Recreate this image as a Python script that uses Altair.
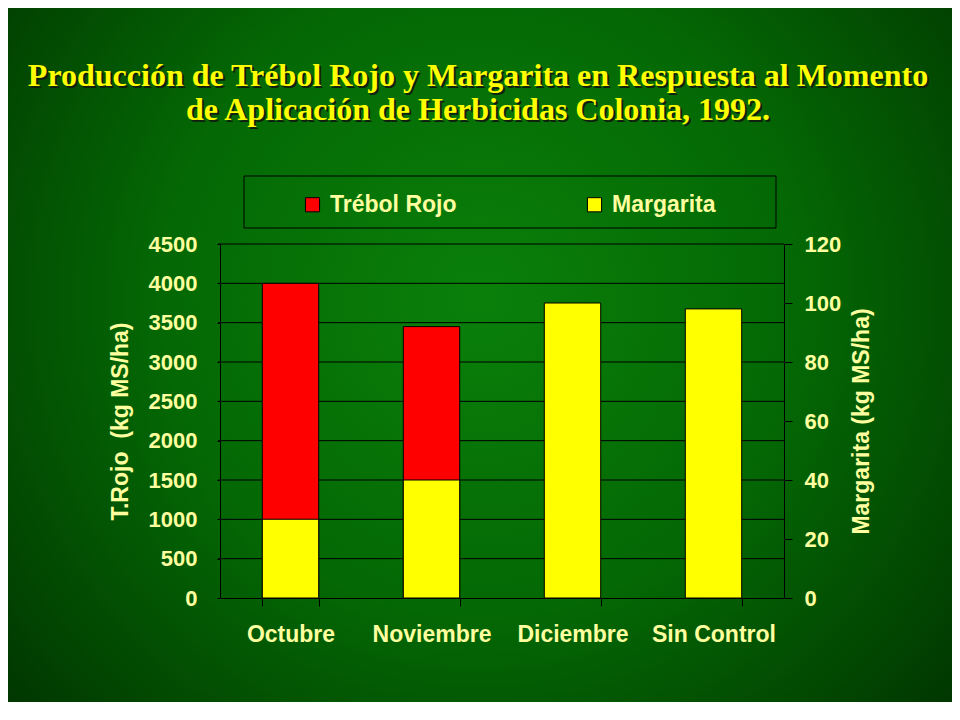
import altair as alt
import pandas as pd

categories = ["Octubre", "Noviembre", "Diciembre", "Sin Control"]
trebol_rojo = [4000, 3450, 0, 0]
margarita = [26.7, 40, 100, 98]
left_ticks = [0, 500, 1000, 1500, 2000, 2500, 3000, 3500, 4000, 4500]
right_ticks = [0, 20, 40, 60, 80, 100, 120]
series = ["Trébol Rojo", "Margarita"]
title_lines = ["Producción de Trébol Rojo y Margarita en Respuesta al Momento",
               "de Aplicación de Herbicidas Colonia, 1992."]

W, H = 564, 354
PL, PT, PR, PB = 212, 236, 168, 104
TXT = "#FFFFA0"
FONT = "Liberation Sans"

df = pd.DataFrame({"cat": categories, "trebol": trebol_rojo, "marg": margarita})
df["s_t"] = series[0]
df["s_m"] = series[1]
grid_df = pd.DataFrame({"v": left_ticks[1:]})
one = pd.DataFrame({"k": [0]})

xenc = alt.X("cat:N", sort=categories, title=None,
             scale=alt.Scale(paddingInner=0.6, paddingOuter=0.3),
             axis=alt.Axis(labelAngle=0, tickBand="extent", tickSize=8, tickColor="black",
                           domainColor="black", labelFont=FONT, labelFontSize=23,
                           labelFontWeight="bold", labelColor=TXT, labelPadding=17,
                           grid=False, zindex=1))

cscale = alt.Scale(domain=series, range=["#FF0000", "#FFFF00"])

bg = alt.Chart(one).mark_rect(
    fill=alt.Gradient(gradient="radial",
                      stops=[alt.GradientStop(color="#0a800a", offset=0),
                             alt.GradientStop(color="#046804", offset=0.45),
                             alt.GradientStop(color="#013a01", offset=0.85),
                             alt.GradientStop(color="#002a00", offset=1)],
                      x1=0.5, y1=0.44, r1=0, x2=0.5, y2=0.44, r2=0.75)
).encode(x=alt.value(-PL), x2=alt.value(W + PR), y=alt.value(-PT), y2=alt.value(H + PB))

grid = alt.Chart(grid_df).mark_rule(color="black", strokeWidth=1).encode(
    y=alt.Y("v:Q", scale=alt.Scale(domain=[0, 4500]), axis=None),
    x=alt.value(-2), x2=alt.value(W))

legend_box = alt.Chart(one).mark_rect(fill=None, stroke="black", strokeWidth=1).encode(
    x=alt.value(24), x2=alt.value(556), y=alt.value(-68), y2=alt.value(-16))

red = alt.Chart(df).mark_bar(stroke="black", strokeWidth=1).encode(
    x=xenc,
    y=alt.Y("trebol:Q", scale=alt.Scale(domain=[0, 4500], nice=False),
            axis=alt.Axis(orient="left", values=left_ticks, format="d",
                          title="T.Rojo \u00a0(kg MS/ha)",
                          grid=False, domainColor="black", tickColor="black", tickSize=3,
                          labelFont=FONT, labelFontSize=22, labelFontWeight="bold",
                          labelColor=TXT, labelPadding=20, titleFont=FONT, titleFontSize=23,
                          titleFontWeight="bold", titleColor=TXT, titlePadding=16, zindex=1)),
    color=alt.Color("s_t:N", scale=cscale,
                    legend=alt.Legend(orient="none", legendX=81, legendY=-51,
                                      direction="horizontal", title=None, symbolType="square",
                                      symbolSize=200, symbolStrokeColor="black",
                                      symbolStrokeWidth=1, symbolOpacity=1, labelFont=FONT,
                                      labelFontSize=23, labelFontWeight="bold", labelColor=TXT,
                                      columnPadding=126, padding=0, labelOffset=6)))

yellow = alt.Chart(df).mark_bar(stroke="black", strokeWidth=1).encode(
    x=xenc,
    y=alt.Y("marg:Q", scale=alt.Scale(domain=[0, 120], nice=False),
            axis=alt.Axis(orient="right", values=right_ticks, format="d",
                          title="Margarita (kg MS/ha)",
                          grid=False, domainColor="black", tickColor="black", tickSize=8,
                          labelFont=FONT, labelFontSize=22, labelFontWeight="bold",
                          labelColor=TXT, labelPadding=12, titleFont=FONT, titleFontSize=23,
                          titleFontWeight="bold", titleColor=TXT, titlePadding=10,
                          titleAngle=270, titleBaseline="top", zindex=1)),
    color=alt.Color("s_m:N", scale=cscale))

title_kw = dict(font="Liberation Serif", fontSize=32, fontWeight="bold", align="center",
                baseline="top", lineHeight=34)
title_shadow = alt.Chart(one).mark_text(color="#102010", dx=2, dy=2, **title_kw).encode(
    text=alt.value(title_lines), x=alt.value(258), y=alt.value(-183))
title_main = alt.Chart(one).mark_text(color="#FFFF00", **title_kw).encode(
    text=alt.value(title_lines), x=alt.value(258), y=alt.value(-183))

chart = alt.layer(bg, grid, legend_box, red, yellow, title_shadow, title_main).resolve_scale(
    y="independent"
).properties(
    width=W, height=H,
    autosize=alt.AutoSizeParams(type="none"),
    padding={"left": PL, "top": PT, "right": PR, "bottom": PB},
    background="#013301",
).configure_view(stroke=None)

chart.save("out.html", embed_options={"renderer": "svg", "actions": False})
